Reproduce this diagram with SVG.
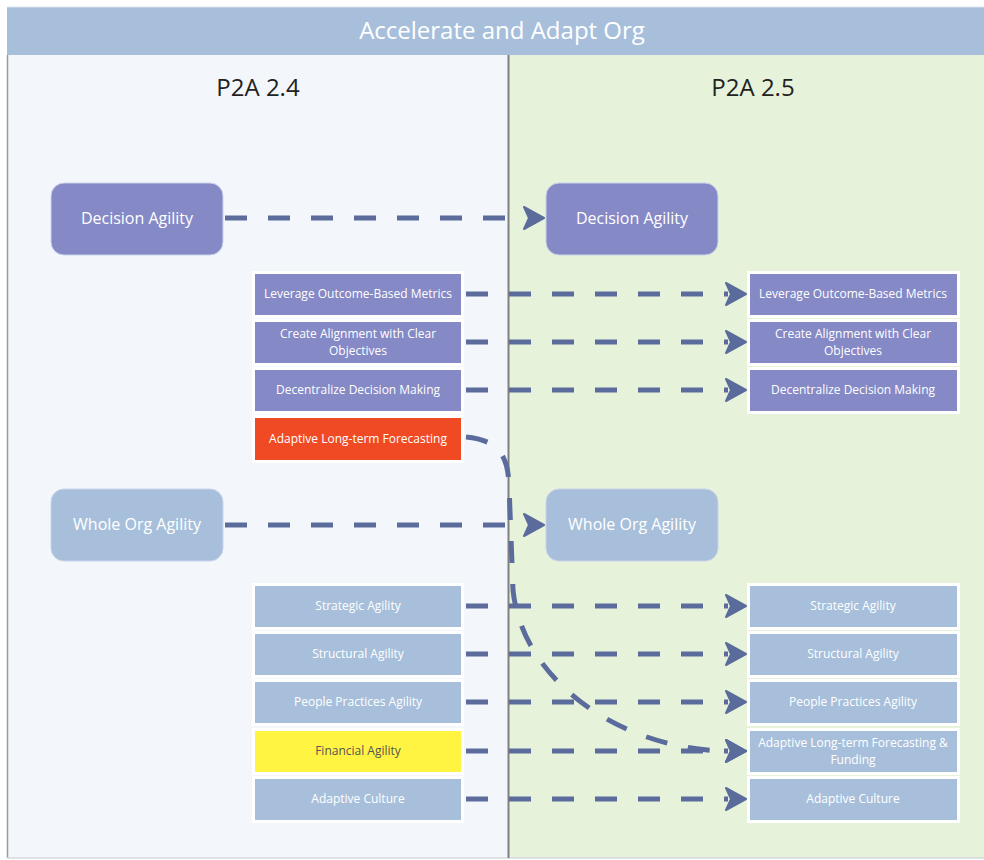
<svg xmlns="http://www.w3.org/2000/svg" width="984" height="860" viewBox="0 0 984 860">
<defs>
<style>
.t{font-family:"Open Sans","Liberation Sans",sans-serif;fill:#fff;text-anchor:middle}
.big{font-size:16px}
.sm{font-size:12px}
.p{fill:#8589c6}
.b{fill:#a7bfdb}
.box{stroke:#fff;stroke-width:3}
.rn{stroke:#c9d2ea;stroke-width:1}
.c{fill:none;stroke:#5b6c9c;stroke-width:5;stroke-dasharray:22 21}
</style>
<marker id="ah" markerUnits="userSpaceOnUse" markerWidth="24" markerHeight="26" refX="2" refY="12" orient="auto" viewBox="-1 -1 24 26">
<path d="M0,1 L20,12 L0,23 L5,12 Z" fill="#5b6c9c" stroke="#5b6c9c" stroke-width="2" stroke-linejoin="round"/>
</marker>
</defs>
<rect x="0" y="0" width="984" height="860" fill="#fff"/>
<g id="lanes">
<rect x="7" y="55" width="501" height="803" fill="#f3f7fc"/>
<rect x="508" y="55" width="476" height="803" fill="#e6f3da"/>
<line x1="7.5" y1="55" x2="7.5" y2="858" stroke="#9a9a9a" stroke-width="1.5"/>
<line x1="7" y1="858" x2="984" y2="858" stroke="#d5d9de" stroke-width="1.5"/>
<line x1="508.5" y1="55" x2="508.5" y2="858" stroke="#808080" stroke-width="2"/>
<rect x="7" y="7" width="977" height="48" fill="#a7bfdb"/>
<line x1="7" y1="7" x2="984" y2="7" stroke="#dde4ee" stroke-width="1"/>
<text x="502" y="39" class="t" style="font-size:24px">Accelerate and Adapt Org</text>
<text x="258" y="96" style="font-family:'Open Sans','Liberation Sans',sans-serif;font-size:24px;fill:#222;text-anchor:middle">P2A 2.4</text>
<text x="753" y="96" style="font-family:'Open Sans','Liberation Sans',sans-serif;font-size:24px;fill:#222;text-anchor:middle">P2A 2.5</text>
</g>
<g id="connectors">
<line class="c" x1="225" y1="218" x2="526" y2="218" marker-end="url(#ah)"/>
<line class="c" x1="225" y1="525" x2="526" y2="525" marker-end="url(#ah)"/>
<line class="c" x1="466" y1="294" x2="728" y2="294" marker-end="url(#ah)"/>
<line class="c" x1="466" y1="342" x2="728" y2="342" marker-end="url(#ah)"/>
<line class="c" x1="466" y1="390" x2="728" y2="390" marker-end="url(#ah)"/>
<line class="c" x1="466" y1="606" x2="728" y2="606" marker-end="url(#ah)"/>
<line class="c" x1="466" y1="654" x2="728" y2="654" marker-end="url(#ah)"/>
<line class="c" x1="466" y1="702" x2="728" y2="702" marker-end="url(#ah)"/>
<line class="c" x1="466" y1="751" x2="728" y2="751" marker-end="url(#ah)"/>
<line class="c" x1="466" y1="799" x2="728" y2="799" marker-end="url(#ah)"/>
<path class="c" d="M466,437 C498,440 508,455 509,485 L513,590 C522,680 620,750 728,751" marker-end="url(#ah)"/>
</g>
<g id="n-da-l"><rect class="p rn" x="51" y="183" width="172" height="72" rx="13"/><text class="t big" x="137" y="224">Decision Agility</text></g>
<g id="n-da-r"><rect class="p rn" x="546" y="183" width="172" height="72" rx="13"/><text class="t big" x="632" y="224">Decision Agility</text></g>
<g id="n-wo-l"><rect class="b rn" x="51" y="489" width="172" height="72" rx="13"/><text class="t big" x="137" y="530">Whole Org Agility</text></g>
<g id="n-wo-r"><rect class="b rn" x="546" y="489" width="172" height="72" rx="13"/><text class="t big" x="632" y="530">Whole Org Agility</text></g>
<g id="n-lev-l"><rect class="p box" x="253.5" y="272.5" width="209" height="44"/><text class="t sm" x="358" y="298">Leverage Outcome-Based Metrics</text></g>
<g id="n-cre-l"><rect class="p box" x="253.5" y="320.5" width="209" height="44"/><text class="t sm" x="358" y="338">Create Alignment with Clear</text><text class="t sm" x="358" y="355">Objectives</text></g>
<g id="n-dec-l"><rect class="p box" x="253.5" y="368.5" width="209" height="44"/><text class="t sm" x="358" y="394">Decentralize Decision Making</text></g>
<g id="n-alf-l"><rect class="box" fill="#f04a24" x="253.5" y="416.5" width="209" height="45"/><text class="t sm" x="358" y="443">Adaptive Long-term Forecasting</text></g>
<g id="n-lev-r"><rect class="p box" x="748.5" y="272.5" width="210" height="44"/><text class="t sm" x="853" y="298">Leverage Outcome-Based Metrics</text></g>
<g id="n-cre-r"><rect class="p box" x="748.5" y="320.5" width="210" height="44"/><text class="t sm" x="853" y="338">Create Alignment with Clear</text><text class="t sm" x="853" y="355">Objectives</text></g>
<g id="n-dec-r"><rect class="p box" x="748.5" y="368.5" width="210" height="44"/><text class="t sm" x="853" y="394">Decentralize Decision Making</text></g>
<g id="n-str-l"><rect class="b box" x="253.5" y="584.5" width="209" height="44"/><text class="t sm" x="358" y="610">Strategic Agility</text></g>
<g id="n-stu-l"><rect class="b box" x="253.5" y="632.5" width="209" height="44"/><text class="t sm" x="358" y="658">Structural Agility</text></g>
<g id="n-ppl-l"><rect class="b box" x="253.5" y="680.5" width="209" height="44"/><text class="t sm" x="358" y="706">People Practices Agility</text></g>
<g id="n-fin-l"><rect class="box" fill="#fff441" x="253.5" y="729.5" width="209" height="44"/><text class="t sm" x="358" y="755" style="fill:#555">Financial Agility</text></g>
<g id="n-cul-l"><rect class="b box" x="253.5" y="777.5" width="209" height="44"/><text class="t sm" x="358" y="803">Adaptive Culture</text></g>
<g id="n-str-r"><rect class="b box" x="748.5" y="584.5" width="210" height="44"/><text class="t sm" x="853" y="610">Strategic Agility</text></g>
<g id="n-stu-r"><rect class="b box" x="748.5" y="632.5" width="210" height="44"/><text class="t sm" x="853" y="658">Structural Agility</text></g>
<g id="n-ppl-r"><rect class="b box" x="748.5" y="680.5" width="210" height="44"/><text class="t sm" x="853" y="706">People Practices Agility</text></g>
<g id="n-alf-r"><rect class="b box" x="748.5" y="729.5" width="210" height="44"/><text class="t sm" x="853" y="747">Adaptive Long-term Forecasting &amp;</text><text class="t sm" x="853" y="764">Funding</text></g>
<g id="n-cul-r"><rect class="b box" x="748.5" y="777.5" width="210" height="44"/><text class="t sm" x="853" y="803">Adaptive Culture</text></g>
</svg>
